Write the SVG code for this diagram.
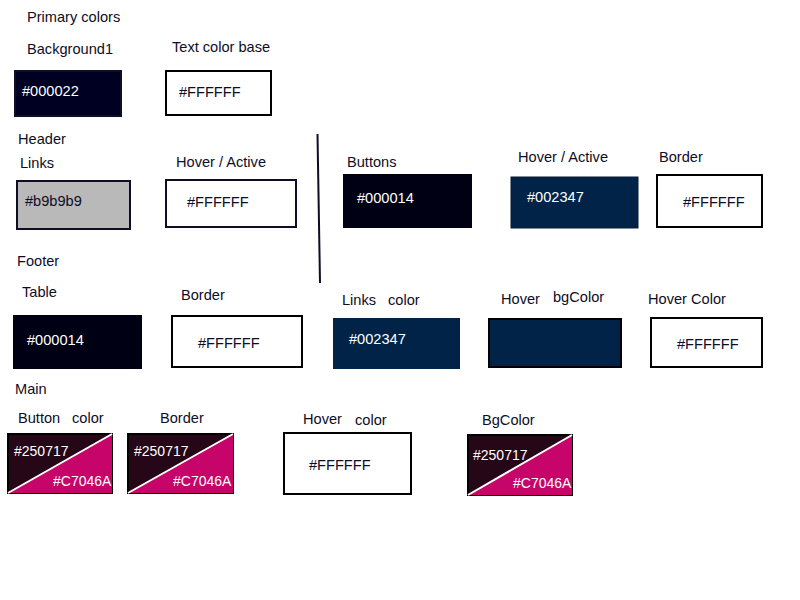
<svg xmlns="http://www.w3.org/2000/svg" width="800" height="600" viewBox="0 0 800 600">
<style>
.lbl{font-family:"Liberation Sans",Arial,sans-serif;font-size:14.6px;fill:#0d0d26}
.hx{font-family:"Liberation Sans",Arial,sans-serif;font-size:14.6px}
.sp{font-family:"Liberation Sans",Arial,sans-serif;font-size:14px;fill:#ffffff}
.w{fill:#ffffff}
.d{fill:#0d0d26}
.box{stroke:#0d0d26;stroke-width:2}
.wb{fill:#ffffff;stroke:#000000;stroke-width:2}
</style>
<rect width="800" height="600" fill="#ffffff"/>
<g id="titles">
<text class="lbl" x="27" y="22">Primary colors</text>
<text class="lbl" x="18" y="144">Header</text>
<text class="lbl" x="17" y="266">Footer</text>
<text class="lbl" x="15" y="394">Main</text>
</g>
<g id="connectors">
<line x1="317.5" y1="134" x2="320" y2="283" stroke="#0d0d26" stroke-width="2"/>
</g>
<g id="background1">
<text class="lbl" x="27" y="54">Background1</text>
<rect x="15" y="71" width="106" height="45" fill="#000022" class="box"/>
<text class="hx w" x="22" y="96">#000022</text>
</g>
<g id="text-color-base">
<text class="lbl" x="172" y="52">Text color base</text>
<rect x="166" y="71" width="105" height="44" class="wb"/>
<text class="hx d" x="179" y="97">#FFFFFF</text>
</g>
<g id="header-links">
<text class="lbl" x="20" y="168">Links</text>
<rect x="17" y="181" width="113" height="48" fill="#b9b9b9" class="box"/>
<text class="hx d" x="25" y="206">#b9b9b9</text>
</g>
<g id="header-hover">
<text class="lbl" x="176" y="167">Hover / Active</text>
<rect x="166" y="180" width="130" height="47" fill="#ffffff" class="box"/>
<text class="hx d" x="187" y="207">#FFFFFF</text>
</g>
<g id="buttons">
<text class="lbl" x="347" y="167">Buttons</text>
<rect x="343" y="174" width="129" height="54" fill="#000014"/>
<text class="hx w" x="357" y="203">#000014</text>
</g>
<g id="buttons-hover">
<text class="lbl" x="518" y="162">Hover / Active</text>
<rect x="511" y="177" width="127" height="51" fill="#002347" stroke="#0d1a30" stroke-width="1"/>
<text class="hx w" x="527" y="202">#002347</text>
</g>
<g id="buttons-border">
<text class="lbl" x="659" y="162">Border</text>
<rect x="657" y="175" width="105" height="52" class="wb"/>
<text class="hx d" x="683" y="207">#FFFFFF</text>
</g>
<g id="footer-table">
<text class="lbl" x="22" y="297">Table</text>
<rect x="13" y="315" width="129" height="54" fill="#000014"/>
<text class="hx w" x="27" y="345">#000014</text>
</g>
<g id="footer-border">
<text class="lbl" x="181" y="300">Border</text>
<rect x="172" y="316" width="130" height="51" class="wb"/>
<text class="hx d" x="198" y="348">#FFFFFF</text>
</g>
<g id="footer-links">
<text class="lbl" x="342" y="305">Links</text>
<text class="lbl" x="388" y="305">color</text>
<rect x="333" y="318" width="127" height="51" fill="#002347"/>
<text class="hx w" x="349" y="344">#002347</text>
</g>
<g id="footer-hover-bg">
<text class="lbl" x="501" y="304">Hover</text>
<text class="lbl" x="553" y="302">bgColor</text>
<rect x="489" y="319" width="132" height="48" fill="#002347" stroke="#000000" stroke-width="2"/>
</g>
<g id="footer-hover-color">
<text class="lbl" x="648" y="304">Hover Color</text>
<rect x="651" y="318" width="111" height="49" class="wb"/>
<text class="hx d" x="677" y="349">#FFFFFF</text>
</g>
<g id="main-button">
<text class="lbl" x="18" y="423">Button</text>
<text class="lbl" x="72" y="423">color</text>
<rect x="8" y="434" width="104" height="59" fill="#250717" stroke="#000000" stroke-width="2"/>
<polygon points="112,434 112,493 8,493" fill="#C7046A"/>
<line x1="8" y1="493" x2="112" y2="434" stroke="#ffffff" stroke-width="2"/>
<text class="sp" x="14" y="456">#250717</text>
<text class="sp" x="53" y="486">#C7046A</text>
</g>
<g id="main-border">
<text class="lbl" x="160" y="423">Border</text>
<rect x="128" y="434" width="105" height="59" fill="#250717" stroke="#000000" stroke-width="2"/>
<polygon points="233,434 233,493 128,493" fill="#C7046A"/>
<line x1="128" y1="493" x2="233" y2="434" stroke="#ffffff" stroke-width="2"/>
<text class="sp" x="134" y="456">#250717</text>
<text class="sp" x="173" y="486">#C7046A</text>
</g>
<g id="main-hover">
<text class="lbl" x="303" y="424">Hover</text>
<text class="lbl" x="355" y="425">color</text>
<rect x="284" y="433" width="127" height="61" class="wb"/>
<text class="hx d" x="309" y="470">#FFFFFF</text>
</g>
<g id="main-bgcolor">
<text class="lbl" x="482" y="425">BgColor</text>
<rect x="468" y="435" width="104" height="60" fill="#250717" stroke="#000000" stroke-width="2"/>
<polygon points="572,435 572,495 468,495" fill="#C7046A"/>
<line x1="468" y1="495" x2="572" y2="435" stroke="#ffffff" stroke-width="2"/>
<text class="sp" x="473" y="460">#250717</text>
<text class="sp" x="513" y="488">#C7046A</text>
</g>
</svg>
